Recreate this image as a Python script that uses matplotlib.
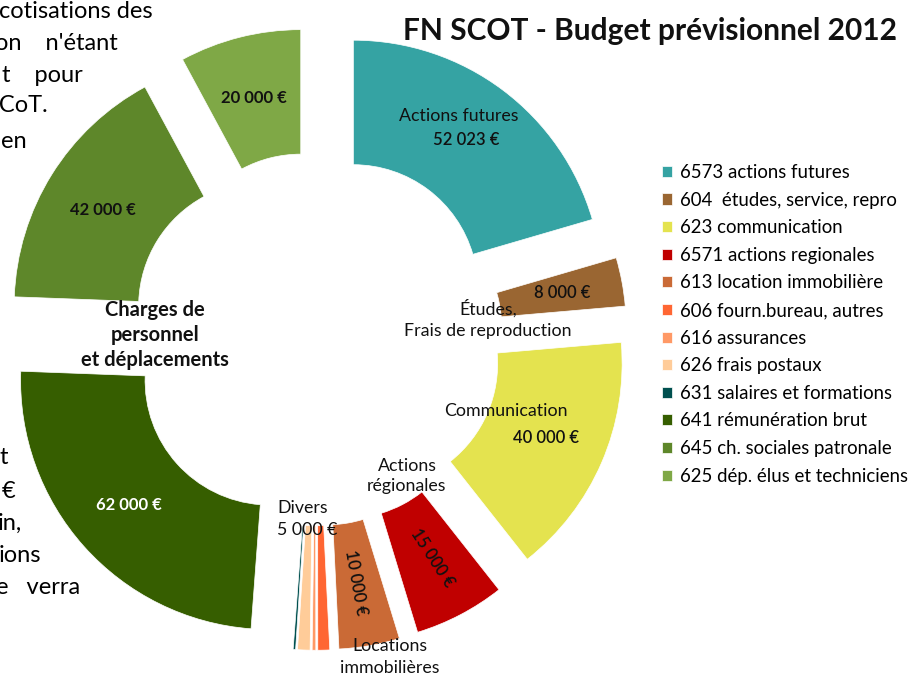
import matplotlib
matplotlib.use("Agg")
import matplotlib.pyplot as plt

plt.rcParams["font.family"] = ["Lato", "DejaVu Sans"]

# Budget lines, in drawing order (clockwise from the top)
accounts = [
    "6573 actions futures",
    "604  études, service, repro",
    "623 communication",
    "6571 actions regionales",
    "613 location immobilière",
    "606 fourn.bureau, autres",
    "616 assurances",
    "626 frais postaux",
    "631 salaires et formations",
    "641 rémunération brut",
    "645 ch. sociales patronale",
    "625 dép. élus et techniciens",
]
amounts = [52023, 8000, 40000, 15000, 10000, 1950, 600, 2050, 400, 62000, 42000, 20000]
colors = [
    "#35a3a3", "#9a6632", "#e4e34f", "#c00000", "#ca6a36", "#ff6633",
    "#ff9966", "#ffcc99", "#00504f", "#365e00", "#5e872a", "#7fa846",
]

# group labels on the chart
group_amounts = {"divers": 5000}

W, H = 920, 674
CX, CY, R = 316, 339, 249  # pixel centre / outer radius of the ring


def fx(x):
    return x / W


def fy(y):
    return 1 - y / H


def euro(v):
    return f"{v:,}".replace(",", " ") + " €"


fig = plt.figure(figsize=(W / 100, H / 100), dpi=100)
ax = fig.add_axes([0, 0, 1, 1])

wedges, _ = ax.pie(
    amounts,
    colors=colors,
    startangle=90,
    counterclock=False,
    explode=[0.25] * len(amounts),
    wedgeprops=dict(width=0.5, edgecolor="white", linewidth=0.5),
)
ax.set_xlim(-CX / R, (W - CX) / R)
ax.set_ylim(-(H - CY) / R, CY / R)
ax.set_aspect("equal")
ax.axis("off")

# title
fig.text(fx(650), fy(31), "FN SCOT - Budget prévisionnel 2012", ha="center", va="center",
         fontsize=21.5, fontweight="bold", color="#111111")

# labels inside / around the ring
name = dict(ha="center", va="center", fontsize=12.8, color="#111111")
num = dict(ha="center", va="center", fontsize=12, color="#111111", fontweight="semibold")
fig.text(fx(459), fy(116), "Actions futures", **name)
fig.text(fx(466), fy(140), euro(amounts[0]), **num)
fig.text(fx(562), fy(293), euro(amounts[1]), **num)
fig.text(fx(488), fy(319), "Études,\nFrais de reproduction", linespacing=1.42, **name)
fig.text(fx(506), fy(411), "Communication", **name)
fig.text(fx(546), fy(438), euro(amounts[2]), **num)
fig.text(fx(407), fy(476), "Actions\nrégionales", linespacing=1.37, **name)
fig.text(fx(432), fy(558), euro(amounts[3]), rotation=-57, **num)
fig.text(fx(356), fy(583), euro(amounts[4]), rotation=-80, **num)
fig.text(fx(390), fy(657), "Locations\nimmobilières", linespacing=1.42, **name)
fig.text(fx(277), fy(519), "Divers\n" + euro(group_amounts["divers"]), ha="left", va="center",
         fontsize=12.8, color="#111111", linespacing=1.42)
fig.text(fx(129), fy(505), euro(amounts[9]), ha="center", va="center", fontsize=12,
         fontweight="bold", color="white")
fig.text(fx(103), fy(210), euro(amounts[10]), ha="center", va="center", fontsize=12,
         fontweight="bold", color="#111111")
fig.text(fx(254), fy(98), euro(amounts[11]), ha="center", va="center", fontsize=12,
         fontweight="bold", color="#111111")
fig.text(fx(155), fy(335), "Charges de\npersonnel\net déplacements", ha="center", va="center",
         fontsize=14.5, fontweight="bold", color="#111111", linespacing=1.33)

# pieces of the surrounding document text, cut at the left edge
doc_top = ["cotisations des", "on    n'étant", "t    pour", "SCoT.", "en"]
doc_top_right = [153, 118, 83, 48, 27]
doc_top_y = [12, 43, 75, 106, 141]
for s, xr, y in zip(doc_top, doc_top_right, doc_top_y):
    fig.text(fx(xr), fy(y), s, ha="right", va="center", fontsize=17, color="black")

doc_bot = ["t", "€", "in,", "ions", "e   verra"]
doc_bot_right = [8, 15, 22, 41, 80]
doc_bot_y = [458, 491, 523, 556, 588]
for s, xr, y in zip(doc_bot, doc_bot_right, doc_bot_y):
    fig.text(fx(xr), fy(y), s, ha="right", va="center", fontsize=17, color="black")

fig.legend(
    wedges,
    accounts,
    loc="upper left",
    bbox_to_anchor=(fx(662), fy(164)),
    frameon=False,
    fontsize=13.4,
    handlelength=0.54,
    handleheight=0.54,
    handletextpad=0.45,
    labelspacing=0.57,
    borderpad=0,
    borderaxespad=0,
)

fig.savefig("out.png", dpi=100)
